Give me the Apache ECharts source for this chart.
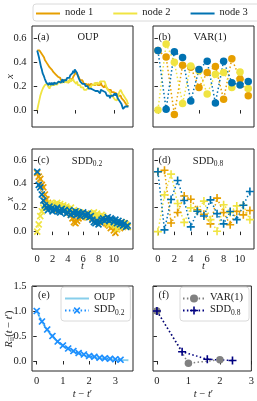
<!DOCTYPE html>
<html><head><meta charset="utf-8">
<script src="https://cdn.jsdelivr.net/npm/echarts@6/dist/echarts.min.js"></script>
<style>html,body{margin:0;padding:0;background:#fff}#c{width:257px;height:401px}</style>
</head><body><div id="c"></div>
<script>
// ---------- data ----------
// (a) OUP, sampled every 0.1 from t=0
const oupStep = 0.1;
const oupNode1 = [0.50,0.51,0.51,0.50,0.49,0.49,0.47,0.48,0.46,0.44,
 0.42,0.43,0.40,0.39,0.38,0.37,0.36,0.37,0.35,0.34,
 0.33,0.32,0.33,0.31,0.30,0.29,0.30,0.28,0.27,0.28,
 0.27,0.25,0.26,0.24,0.25,0.23,0.24,0.26,0.24,0.25,
 0.25,0.23,0.24,0.26,0.25,0.27,0.26,0.28,0.29,0.30,
 0.31,0.32,0.30,0.31,0.28,0.27,0.25,0.26,0.24,0.25,
 0.24,0.22,0.23,0.21,0.22,0.20,0.21,0.22,0.20,0.21,
 0.22,0.21,0.23,0.21,0.20,0.22,0.21,0.23,0.22,0.21,
 0.22,0.20,0.21,0.23,0.21,0.20,0.21,0.19,0.20,0.21,
 0.19,0.20,0.18,0.17,0.18,0.16,0.17,0.15,0.16,0.15,
 0.15,0.14,0.16,0.14,0.13,0.14,0.12,0.13,0.11,0.12,
 0.10,0.09,0.10,0.08,0.07,0.06,0.05,0.04,0.05,0.03];
const oupNode2 = [0.00,0.03,0.06,0.09,0.12,0.14,0.16,0.17,0.19,0.20,
 0.21,0.22,0.21,0.22,0.20,0.19,0.18,0.20,0.19,0.21,
 0.21,0.20,0.22,0.21,0.23,0.22,0.21,0.23,0.22,0.24,
 0.23,0.22,0.24,0.23,0.25,0.24,0.23,0.25,0.24,0.23,
 0.24,0.25,0.23,0.26,0.24,0.25,0.24,0.26,0.24,0.23,
 0.23,0.22,0.24,0.21,0.22,0.20,0.21,0.19,0.20,0.18,
 0.19,0.17,0.18,0.16,0.17,0.18,0.17,0.19,0.18,0.20,
 0.19,0.21,0.20,0.22,0.21,0.23,0.22,0.21,0.23,0.22,
 0.23,0.22,0.24,0.23,0.25,0.24,0.23,0.25,0.24,0.22,
 0.20,0.19,0.17,0.18,0.16,0.15,0.13,0.14,0.12,0.11,
 0.10,0.09,0.08,0.09,0.08,0.10,0.13,0.15,0.16,0.17,
 0.16,0.14,0.13,0.12,0.11,0.10,0.09,0.08,0.06,0.05];
const oupNode3 = [0.50,0.49,0.45,0.42,0.39,0.36,0.34,0.31,0.30,0.28,
 0.26,0.25,0.23,0.24,0.22,0.21,0.23,0.22,0.21,0.23,
 0.22,0.21,0.23,0.22,0.24,0.22,0.23,0.21,0.24,0.23,
 0.25,0.23,0.24,0.26,0.23,0.25,0.24,0.26,0.25,0.27,
 0.26,0.28,0.27,0.29,0.30,0.29,0.31,0.33,0.31,0.34,
 0.33,0.35,0.31,0.29,0.27,0.26,0.24,0.25,0.23,0.22,
 0.23,0.21,0.22,0.20,0.21,0.19,0.20,0.18,0.19,0.17,
 0.18,0.17,0.19,0.17,0.16,0.18,0.16,0.15,0.17,0.16,
 0.15,0.16,0.14,0.17,0.16,0.18,0.16,0.15,0.17,0.15,
 0.14,0.12,0.13,0.11,0.12,0.10,0.12,0.11,0.13,0.12,
 0.13,0.14,0.12,0.14,0.13,0.10,0.09,0.08,0.09,0.07,
 0.05,0.04,0.01,0.02,0.00,0.03,0.02,0.04,0.03,0.03];

// (b) VAR(1), t = 0..11
const varNode1 = [0.50,0.445,-0.037,0.375,0.36,0.19,0.315,0.366,0.09,0.43,0.26,0.12];
const varNode2 = [0.00,0.555,0.40,0.056,0.37,0.33,0.135,0.30,0.315,0.19,0.32,0.18];
const varNode3 = [0.50,0.006,0.49,0.44,0.076,0.34,0.41,0.06,0.41,0.23,0.21,0.24];

// (c) SDD_0.2, sampled every 0.2
const sdd02Step = 0.2;
const sdd02Node1 = [0.49,0.46,0.44,0.39,0.37,0.31,0.27,0.24,0.22,0.20,
 0.21,0.19,0.20,0.22,0.18,0.21,0.19,0.20,0.18,0.19,
 0.17,0.16,0.14,0.11,0.08,0.07,0.09,0.11,0.13,0.12,
 0.14,0.13,0.15,0.12,0.14,0.13,0.11,0.12,0.10,0.11,
 0.09,0.10,0.11,0.08,0.09,0.07,0.06,0.05,0.03,0.04,
 0.01,-0.01,0.02,0.04,0.03,0.06,0.05,0.07,0.05,0.04];
const sdd02Node2 = [0.00,0.06,0.13,0.17,0.20,0.22,0.21,0.23,0.22,0.24,
 0.23,0.21,0.22,0.24,0.22,0.23,0.21,0.22,0.20,0.21,
 0.19,0.18,0.20,0.17,0.18,0.16,0.17,0.15,0.16,0.14,
 0.15,0.13,0.14,0.12,0.13,0.15,0.14,0.16,0.13,0.15,
 0.13,0.12,0.14,0.13,0.11,0.09,0.08,0.06,0.07,0.09,
 0.08,0.05,0.02,0.04,0.06,0.08,0.07,0.05,0.06,0.04];
const sdd02Node3 = [0.50,0.39,0.37,0.31,0.26,0.22,0.20,0.18,0.21,0.19,
 0.17,0.19,0.18,0.20,0.17,0.16,0.19,0.17,0.18,0.15,
 0.16,0.18,0.14,0.16,0.15,0.17,0.14,0.16,0.13,0.15,
 0.16,0.14,0.13,0.15,0.12,0.13,0.10,0.08,0.07,0.09,
 0.06,0.08,0.10,0.11,0.09,0.10,0.12,0.09,0.11,0.10,
 0.08,0.10,0.07,0.09,0.06,0.08,0.05,0.07,0.04,0.05];

// (d) SDD_0.8, sampled every 0.8
const sdd08Step = 0.8;
const sdd08Node1 = [0.50,0.513,0.072,0.16,0.297,0.27,0.183,0.145,0.065,0.28,0.16,0.058,0.17,0.14,0.176];
const sdd08Node2 = [0.00,0.307,0.48,0.235,0.077,0.198,0.175,0.255,0.10,0.003,0.225,0.16,0.215,0.22,0.10];
const sdd08Node3 = [0.50,0.015,0.268,0.427,0.26,0.04,0.17,0.13,0.265,0.15,0.065,0.168,0.10,0.22,0.335];

// (e) autocorrelation
const oupLagStep = 0.1;
const oupAutocorr = [1.000,0.887,0.787,0.698,0.619,0.549,0.487,0.432,0.383,0.340,
 0.301,0.267,0.237,0.210,0.186,0.165,0.147,0.130,0.115,0.102,
 0.091,0.080,0.071,0.063,0.056,0.050,0.044,0.039,0.035,0.031,
 0.027,0.024,0.021,0.019,0.017,0.015];
const sdd02LagStep = 0.2;
const sdd02Autocorr = [1.00,0.79,0.63,0.50,0.39,0.31,0.25,0.20,0.16,0.13,0.10,0.085,0.065,0.055,0.045,0.035,0.025];

// (f) autocorrelation
const varLags = [0,1,2];
const varAutocorr = [1.0,-0.045,0.025];
const sdd08Lags = [0,0.8,1.6,2.4];
const sdd08Autocorr = [1.0,0.185,0.035,0.01];

// tick values
const ticksT5 = [0,5,10];
const ticksT2 = [0,2,4,6,8,10];
const ticksX = [0,0.2,0.4,0.6];
const ticksLag = [0,1,2,3];
const ticksR = [0,0.5,1.0,1.5];

// ---------- helpers ----------
const FONT = "'Liberation Serif','DejaVu Serif',serif";
const C1 = '#E69F00', C2 = '#F0E442', C3 = '#0072B2';
const AX = '#262626', TXT = '#1a1a1a';
const PLUS = 'path://M4,0H6V4H10V6H6V10H4V6H0V4H4Z';
const BAR = 'path://M0,0H24V2H0Z';
const DOT = [1.5, 2.4];
const stepPairs = (step, vals) => vals.map((v, i) => [+(i * step).toFixed(3), v]);
const zipPairs = (xs, ys) => xs.map((x, i) => [x, ys[i]]);

const gridBase = {show: true, borderColor: AX, borderWidth: 1, backgroundColor: 'transparent', containLabel: false};
const grids = [
  {left: 32, top: 26, width: 101, height: 101},
  {left: 153, top: 26, width: 101, height: 101},
  {left: 32, top: 149, width: 101, height: 100},
  {left: 153, top: 149, width: 101, height: 100},
  {left: 32, top: 286, width: 101, height: 85},
  {left: 153, top: 286, width: 101, height: 85}
].map(g => Object.assign({}, gridBase, g));

function axis(kind, gi, min, max, ticks, showLabels, fmt) {
  return {
    type: 'value', gridIndex: gi, min: min, max: max,
    position: kind === 'x' ? 'bottom' : 'left',
    axisLine: {show: false},
    splitLine: {show: false},
    axisTick: {show: true, inside: false, length: 3.5, customValues: ticks, lineStyle: {color: AX, width: 1}},
    axisLabel: {show: showLabels, customValues: ticks, margin: kind === 'x' ? 5 : 5.5,
      fontFamily: FONT, fontSize: 10.5, color: TXT, formatter: fmt}
  };
}
const f1 = v => Number(v).toFixed(1);
const f0 = v => String(Math.round(v));

const xAxes = [
  axis('x', 0, -0.68, 12.5, ticksT5, false),
  axis('x', 1, -0.6, 11.7, ticksT5, false),
  axis('x', 2, -0.68, 12.5, ticksT2, true, f0),
  axis('x', 3, -0.6, 11.7, ticksT2, true, f0),
  axis('x', 4, -0.18, 3.675, ticksLag, true, f0),
  axis('x', 5, -0.125, 3.0, ticksLag, true, f0)
];
const yAxes = [
  axis('y', 0, -0.142, 0.705, ticksX, true, f1),
  axis('y', 1, -0.142, 0.705, ticksX, false),
  axis('y', 2, -0.145, 0.69, ticksX, true, f1),
  axis('y', 3, -0.145, 0.69, ticksX, false),
  axis('y', 4, -0.2, 1.5, ticksR, true, f1),
  axis('y', 5, -0.2, 1.5, ticksR, false)
];

function lineS(name, gi, data, color, width) {
  return {name, type: 'line', xAxisIndex: gi, yAxisIndex: gi, data, symbol: 'none',
    lineStyle: {color, width}, itemStyle: {color}, silent: true, animation: false};
}
function markS(name, gi, data, color, symbol, size, rot, lw) {
  return {name, type: 'line', xAxisIndex: gi, yAxisIndex: gi, data, symbol, symbolSize: size,
    symbolRotate: rot, showAllSymbol: true,
    lineStyle: {color, width: lw, type: DOT}, itemStyle: {color, opacity: 1}, silent: true, animation: false};
}

const series = [
  lineS('node 1', 0, stepPairs(oupStep, oupNode1), C1, 1.8),
  lineS('node 2', 0, stepPairs(oupStep, oupNode2), C2, 1.8),
  lineS('node 3', 0, stepPairs(oupStep, oupNode3), C3, 1.8),
  markS('var 1', 1, stepPairs(1, varNode1), C1, 'circle', 7.5, 0, 1.5),
  markS('var 2', 1, stepPairs(1, varNode2), C2, 'circle', 7.5, 0, 1.5),
  markS('var 3', 1, stepPairs(1, varNode3), C3, 'circle', 7.5, 0, 1.5),
  markS('sdd02 1', 2, stepPairs(sdd02Step, sdd02Node1), C1, PLUS, 8.5, 45, 1),
  markS('sdd02 2', 2, stepPairs(sdd02Step, sdd02Node2), C2, PLUS, 8.5, 45, 1),
  markS('sdd02 3', 2, stepPairs(sdd02Step, sdd02Node3), C3, PLUS, 8.5, 45, 1),
  markS('sdd08 1', 3, stepPairs(sdd08Step, sdd08Node1), C1, PLUS, 8, 0, 1.5),
  markS('sdd08 2', 3, stepPairs(sdd08Step, sdd08Node2), C2, PLUS, 8, 0, 1.5),
  markS('sdd08 3', 3, stepPairs(sdd08Step, sdd08Node3), C3, PLUS, 8, 0, 1.5),
  lineS('OUP', 4, stepPairs(oupLagStep, oupAutocorr), '#87CEEB', 1.8),
  markS('SDD0.2', 4, stepPairs(sdd02LagStep, sdd02Autocorr), '#1E90FF', PLUS, 8.5, 45, 1.5),
  markS('VAR(1)', 5, zipPairs(varLags, varAutocorr), '#808080', 'circle', 7.5, 0, 1.5),
  markS('SDD0.8', 5, zipPairs(sdd08Lags, sdd08Autocorr), '#000080', PLUS, 8, 0, 1.5)
];

const subRich = {
  m: {fontFamily: FONT, fontSize: 10.5, color: TXT, verticalAlign: 'top', lineHeight: 13},
  s: {fontFamily: FONT, fontSize: 7.5, color: TXT, verticalAlign: 'top', lineHeight: 13, padding: [5, 0, 0, 0]},
  i: {fontFamily: FONT, fontSize: 10.5, color: TXT, fontStyle: 'italic', verticalAlign: 'top', lineHeight: 13}
};
const legendFmt = n => n === 'SDD0.2' ? '{m|SDD}{s|0.2}' : n === 'SDD0.8' ? '{m|SDD}{s|0.8}' : '{m|' + n + '}';
const legendBase = {selectedMode: false, borderColor: '#d0d0d0', borderWidth: 0.8, borderRadius: 3,
  backgroundColor: 'rgba(255,255,255,0.85)', formatter: legendFmt, symbolKeepAspect: true,
  textStyle: {fontFamily: FONT, fontSize: 10.5, color: TXT, rich: subRich}};
const legends = [
  Object.assign({}, legendBase, {data: ['node 1', 'node 2', 'node 3'].map(n => ({name: n, icon: BAR})),
    left: 33, top: 4, width: 260, orient: 'horizontal',
    itemWidth: 24, itemHeight: 10, itemGap: 20, padding: [3, 12, 3, 3]}),
  Object.assign({}, legendBase, {data: [{name: 'OUP', icon: BAR}, 'SDD0.2'], left: 61, top: 287, orient: 'vertical',
    itemWidth: 24, itemHeight: 10, itemGap: 1, padding: [5, 6, 4, 3]}),
  Object.assign({}, legendBase, {data: ['VAR(1)', 'SDD0.8'], left: 180, top: 287, orient: 'vertical',
    itemWidth: 22, itemHeight: 10, itemGap: 1, padding: [5, 6, 4, 2]})
];

function txt(text, x, y, opts) {
  return Object.assign({type: 'text', x, y, silent: true,
    style: Object.assign({text, fontFamily: FONT, fontSize: 10.5, fill: TXT, align: 'left', verticalAlign: 'middle', rich: subRich}, opts && opts.style)},
    opts && opts.el);
}
const graphics = [
  txt('(a)', 37.5, 37.5), txt('OUP', 88, 37.5, {style: {align: 'center'}}),
  txt('(b)', 158.5, 37.5), txt('VAR(1)', 210, 37.5, {style: {align: 'center'}}),
  txt('(c)', 37.5, 160), txt('{m|SDD}{s|0.2}', 87, 162, {style: {align: 'center'}}),
  txt('(d)', 158.5, 160), txt('{m|SDD}{s|0.8}', 208, 162, {style: {align: 'center'}}),
  txt('(e)', 38, 295), txt('(f)', 158.5, 295),
  txt('x', 10, 76.5, {style: {align: 'center', fontStyle: 'italic'}, el: {rotation: Math.PI / 2}}),
  txt('x', 10, 199, {style: {align: 'center', fontStyle: 'italic'}, el: {rotation: Math.PI / 2}}),
  txt('{i|R}{s|ii}{m|(}{i|t}{m| − }{i|t}{m|′)}', 10, 329, {style: {align: 'center'}, el: {rotation: Math.PI / 2}}),
  txt('t', 82.5, 266, {style: {align: 'center', fontStyle: 'italic'}}),
  txt('t', 203.5, 266, {style: {align: 'center', fontStyle: 'italic'}}),
  txt('{i|t}{m| − }{i|t}{m|′}', 82.5, 395, {style: {align: 'center'}}),
  txt('{i|t}{m| − }{i|t}{m|′}', 203.5, 395, {style: {align: 'center'}})
];

const chart = echarts.init(document.getElementById('c'), null, {renderer: 'canvas', width: 257, height: 401});
chart.setOption({
  animation: false,
  backgroundColor: '#fff',
  grid: grids, xAxis: xAxes, yAxis: yAxes,
  legend: legends,
  series: series,
  graphic: graphics
});
</script></body></html>
